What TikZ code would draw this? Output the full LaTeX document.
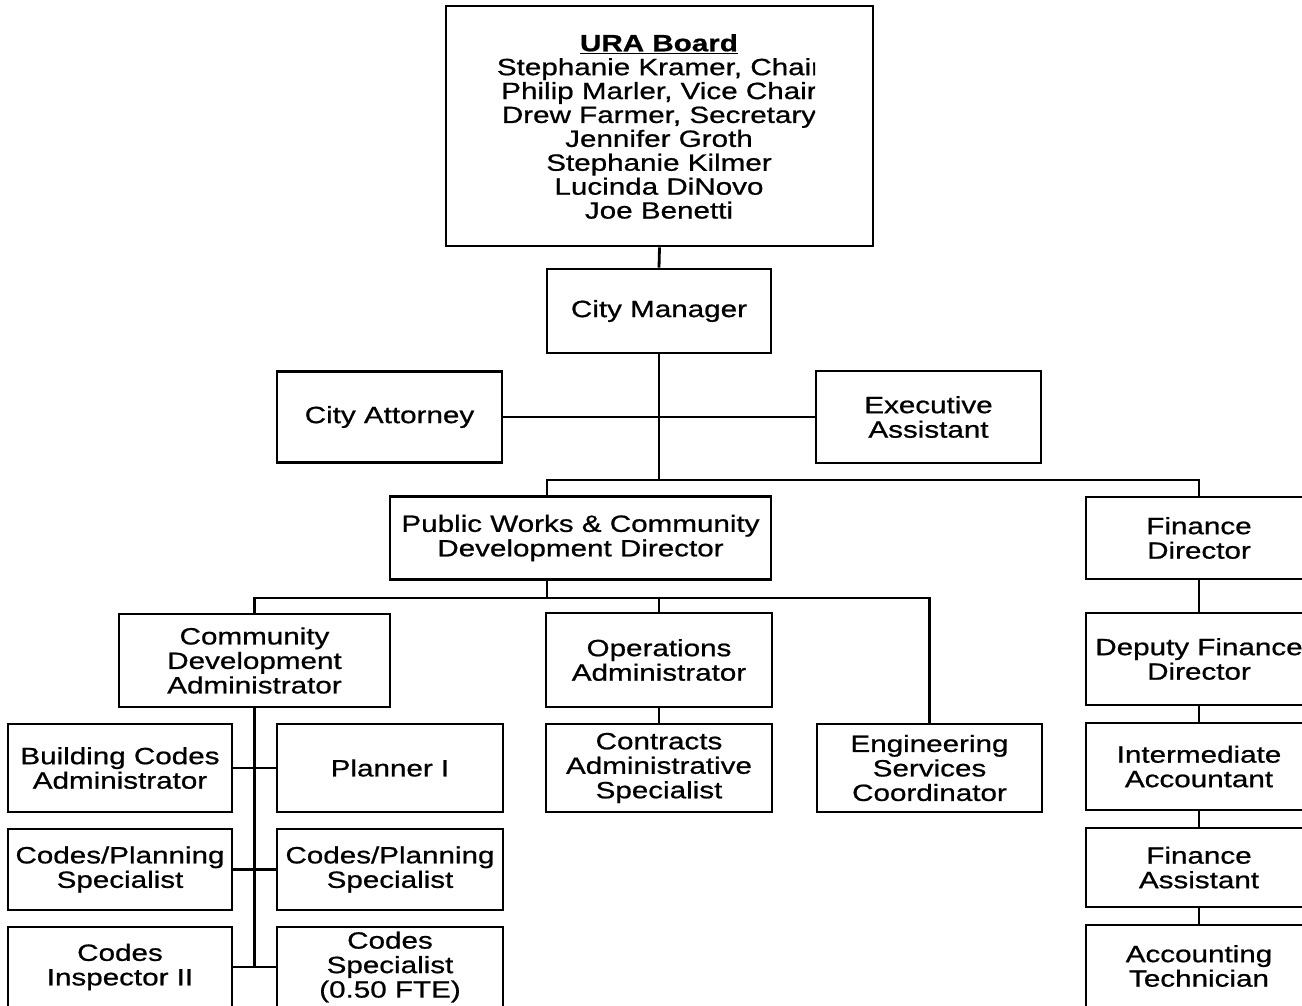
\documentclass[tikz,border=0pt]{standalone}
\usepackage{fontspec}
\setmainfont[FakeStretch=1.26,FakeBold=0.8]{Liberation Sans}
\begin{document}
\begin{tikzpicture}[x=1pt,y=-1pt,
  box/.style={draw, line width=2.6pt, rectangle, align=center, inner sep=0pt,
    font=\fontsize{23.5}{24.5}\selectfont},
  link/.style={line width=2.8pt}]
\clip (0,0) rectangle (1302,1005);
\fill[white] (0,0) rectangle (1302,1005);

% top of the chart
\node[box, minimum width=427, minimum height=240] (board) at (659.5,126) {};
\begin{scope}
  \clip (498,10) rectangle (815,240);
  \node[align=center, inner sep=0pt, font=\fontsize{23.5}{23.9}\selectfont] (boardtext) at (659,126.5)
    {\textbf{\underline{URA Board}}\\ Stephanie Kramer, Chair\\ Philip Marler, Vice Chair\\
     Drew Farmer, Secretary\\ Jennifer Groth\\ Stephanie Kilmer\\ Lucinda DiNovo\\ Joe Benetti};
\end{scope}
\node[box, minimum width=224, minimum height=84] (cm) at (659,311) {City Manager};
\node[box, minimum width=225, minimum height=91] (ca) at (389.5,417) {City Attorney};
\node[box, minimum width=225, minimum height=92] (ea) at (928.5,417) {Executive\\ Assistant};

% directors
\node[box, minimum width=381, minimum height=83] (pwd) at (580.5,538) {Public Works \& Community\\ Development Director};
\node[box, minimum width=226, minimum height=82] (fin) at (1199,538) {Finance\\ Director};

% public works and community development
\node[box, minimum width=271, minimum height=93] (cda) at (254.5,660.5) {Community\\ Development\\ Administrator};
\node[box, minimum width=226, minimum height=94] (ops) at (659,660) {Operations\\ Administrator};
\node[box, minimum width=224, minimum height=88] (bca) at (120,768) {Building Codes\\ Administrator};
\node[box, minimum width=226, minimum height=88] (pl) at (390,768) {Planner I};
\node[box, minimum width=226, minimum height=88] (cas) at (659,768) {Contracts\\ Administrative\\ Specialist};
\node[box, minimum width=225, minimum height=88] (esc) at (929.5,768) {Engineering\\ Services\\ Coordinator};
\node[box, minimum width=224, minimum height=81] (cpsa) at (120,869.5) {Codes/Planning\\ Specialist};
\node[box, minimum width=226, minimum height=81] (cpsb) at (390,869.5) {Codes/Planning\\ Specialist};
\node[box, minimum width=224, minimum height=80] (ci) at (120,967) {Codes\\ Inspector II};
\node[box, minimum width=226, minimum height=80] (cs) at (390,967) {Codes\\ Specialist\\ (0.50 FTE)};

% finance
\node[box, minimum width=226, minimum height=92] (dfd) at (1199,659) {Deputy Finance\\ Director};
\node[box, minimum width=226, minimum height=87] (ia) at (1199,766.5) {Intermediate\\ Accountant};
\node[box, minimum width=226, minimum height=79] (fa) at (1199,867.5) {Finance\\ Assistant};
\node[box, minimum width=226, minimum height=82] (acct) at (1199,966) {Accounting\\ Technician};

% connectors
\coordinate (barone) at (659,480);
\coordinate (pwdtap) at (547,480);
\coordinate (bartwo) at (547,598);
\draw[link] (board.south) -- (cm.north);
\draw[link] (cm.south) -- (barone);
\draw[link] (ca.east) -- (ea.west);
\draw[link] (pwd.north -| pwdtap) |- (barone) -| (fin.north);
\draw[link] (pwd.south -| bartwo) -- (bartwo);
\draw[link] (cda.north) |- (bartwo) -| (esc.north);
\draw[link] (ops.north |- bartwo) -- (ops.north);
\draw[link] (ops.south) -- (cas.north);
\draw[link] (cda.south) -- (cda.south |- ci.east);
\draw[link] (bca.east) -- (pl.west);
\draw[link] (cpsa.east) -- (cpsb.west);
\draw[link] (ci.east) -- (cs.west);
\draw[link] (fin.south) -- (dfd.north);
\draw[link] (dfd.south) -- (ia.north);
\draw[link] (ia.south) -- (fa.north);
\draw[link] (fa.south) -- (acct.north);
\end{tikzpicture}
\end{document}
